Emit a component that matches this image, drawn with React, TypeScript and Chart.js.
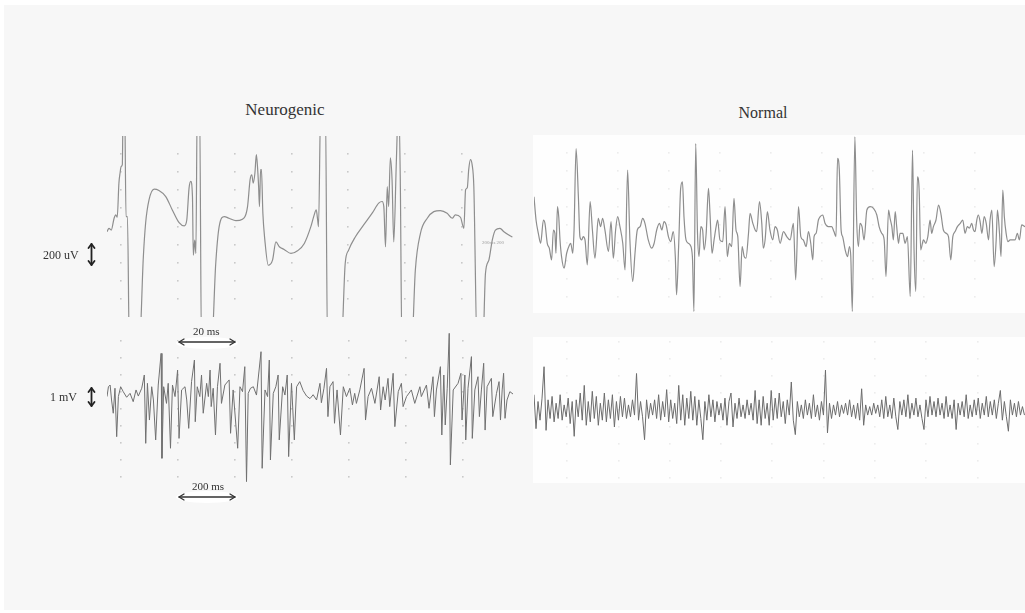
import React, { useEffect, useRef } from "react";
import { Chart, registerables } from "chart.js";

Chart.register(...registerables);

// ---------- Neurogenic, fast sweep (20 ms / div): time in ms, amplitude in µV ----------
const neuroFastTimeMs = [
  0, 0.7, 1.5, 2.5, 3.1, 3.6, 4.2, 4.6, 5.0, 5.4,
  5.7, 6.2, 6.7, 7.2, 7.9, 11.3, 12.8, 13.6, 14.8, 16.6,
  18.3, 20.7, 23.0, 25.4, 27.2, 28.1, 28.9, 29.5, 30.1, 30.4,
  30.9, 31.3, 31.8, 32.6, 33.3, 36.7, 38.3, 39.5, 41.3, 43.0,
  45.4, 47.7, 49.5, 50.4, 51.0, 51.5, 52.1, 52.6, 53.0, 53.4,
  53.7, 54.1, 54.4, 54.9, 55.6, 56.8, 58.3, 59.5, 60.7, 62.4,
  64.8, 67.1, 69.5, 71.8, 72.8, 73.7, 74.2, 74.5, 75.3, 76.9,
  77.7, 82.4, 83.9, 85.1, 87.5, 90.4, 93.4, 95.7, 96.9, 97.5,
  98.1, 98.7, 99.2, 99.8, 100.4, 101.0, 101.9, 102.7, 103.3, 103.9,
  107.2, 108.6, 110.4, 112.8, 115.1, 117.4, 119.8, 121.6, 122.7, 124.5,
  125.7, 126.3, 126.9, 127.4, 128.0, 128.6, 129.2, 130.4, 132.3, 133.3,
  134.5, 135.7, 136.8, 138.4, 139.8, 142.1, 142.8,
];
const neuroFastUv = [
  -58, -20, -39, 91, 128, 102, 480, 591, 664, 683,
  1400, 1400, 109, 109, -1400, -1400, -336, 36, 294, 413,
  398, 331, 183, 42, 6, 72, 424, 498, 331, -317,
  -150, -298, 1400, 1400, -1400, -1400, -409, -2, 109, 91,
  64, 80, 220, 517, 572, 480, 591, 794, 664, 442,
  220, 628, 628, 147, -150, -428, -372, -169, -224, -253,
  -298, -269, -187, -2, 109, 183, 72, -2, 1400, 1400,
  -1400, -1400, -409, -261, -113, 17, 147, 258, 276, 220,
  -224, 442, 220, 758, 517, -169, 702, 1400, 517, -1400,
  -1400, -483, -76, 91, 164, 176, 147, 91, 128, 102,
  -20, 406, 428, 628, 739, 683, 442, -1400, -1400, -520,
  -372, -150, -39, -20, -58, -106, -117,
];
const neuroFastGridMs = [5, 25, 45, 65, 85, 105, 125];
const neuroFastGridUv = [-800, -600, -400, -200, 0, 200, 400, 600, 800];

// ---------- Normal, fast sweep: time in ms, amplitude in µV ----------
const normalFastTimeMs = [
  0, 0.8, 1.7, 2.6, 3.7, 4.3, 5.2, 6.0, 6.9, 7.6,
  8.2, 8.6, 9.2, 9.7, 10.2, 10.8, 11.8, 12.8, 13.9, 14.4,
  15.2, 15.7, 16.5, 17.4, 18.0, 18.7, 19.3, 20.0, 20.9, 22.0,
  22.9, 23.9, 25.2, 26.1, 26.9, 27.8, 29.2, 30.2, 31.1, 32.0,
  32.8, 33.7, 34.8, 35.7, 36.7, 37.6, 38.7, 39.6, 40.5, 41.6,
  42.6, 43.5, 44.8, 46.1, 47.1, 48.1, 49.2, 50.1, 51.0, 51.8,
  52.7, 53.6, 54.6, 55.4, 55.9, 56.7, 57.5, 58.2, 58.8, 59.6,
  60.5, 61.2, 62.1, 62.7, 63.4, 64.1, 64.7, 65.4, 66.1, 66.7,
  67.5, 68.4, 69.0, 69.8, 70.6, 71.4, 72.0, 72.9, 74.0, 74.9,
  75.8, 76.6, 77.5, 78.4, 79.2, 79.9, 80.8, 81.6, 82.4, 83.1,
  84.1, 84.7, 85.8, 86.7, 87.3, 88.4, 89.3, 89.9, 90.6, 91.5,
  92.5, 93.6, 94.5, 95.4, 96.5,
  97.8, 99.1, 100.4, 101.7, 102.6, 103.7, 104.6, 105.6, 106.7, 107.6,
  108.5, 109.3, 109.8, 110.6, 111.5, 112.2, 113.2, 114.1, 115.4, 116.7,
  117.6, 118.4, 119.0, 119.7, 120.4, 121.0, 122.0, 122.9, 123.7, 124.2,
  124.8, 125.8, 126.5, 127.2, 127.8, 128.6, 129.4, 130.5, 131.8, 133.1,
  134.4, 135.3, 136.3, 137.3, 138.0, 139.0, 139.6, 140.3, 140.9, 141.6,
  142.2, 142.9, 143.5, 144.6, 145.5, 146.4, 147.5, 148.4, 149.0, 149.7,
  150.3, 151.0, 151.6, 152.7, 153.6, 154.4, 155.3, 155.9, 156.6, 157.6,
  158.6, 159.5, 160.5, 161.6, 162.5, 163.4, 164.2, 165.1, 166.0, 167.1,
  168.1, 169.0, 169.9, 170.7, 171.6, 172.3, 172.9, 173.6, 174.2, 174.9,
  175.6, 176.5, 177.3, 178.2, 178.8, 179.5, 180.4, 181.2, 181.7, 182.5,
  183.1, 183.8, 184.4, 185.1, 185.8, 186.7, 187.7, 188.6, 189.5, 190.3,
  191.2, 192.5,
];
const normalFastUv = [
  514, 255, 107, -4, 255, 218, -4, -59, -189, 144,
  107, -115, 403, 292, 33, -152, -281, -115, -22, -4,
  -115, 144, 1051, 514, 70, 33, 70, 33, -244, 459,
  144, -170, 274, 181, 274, 144, -96, 237, -170, 144,
  292, 181, -4, -300, 810, 33, -429, -115, 144, 181,
  274, 218, 33, -59, -4, 144, 218, 144, 237, 200,
  70, 15, 126, -152, -577, -41, 607, 681, 292, 33,
  -4, -22, -152, -762, 1106, 107, -152, 181, 144, -78,
  107, 607, 329, -115, 33, 181, 255, 33, 15, 403,
  -152, -4, -41, 496, 144, 70, -485, -41, -152, -170,
  107, 329, 218, 144, 126, 459, 218, -59, 33, 348,
  144, 33, 181, 144, -4,
  126, 70, 33, 218, -411, 403, 70, 33, -41, 126,
  -4, -189, 70, 107, 255, 292, 311, 218, 181, 181,
  126, 70, 940, 810, 144, 70, -78, -152, -41, -152,
  -762, 1180, 255, -41, 218, 181, 33, 366, 403, 385,
  311, 181, 107, 33, -374, 366, 274, 181, 33, 348,
  181, -4, 107, 107, -4, 70, -596, 1032, -78, -540,
  736, 588, -78, 33, -4, 70, 255, 107, 181, 255,
  422, 329, 144, 107, 70, -189, 70, 126, 181, 218,
  255, 107, 181, 163, 218, 144, 126, 255, 311, 237,
  107, 292, 218, 33, 255, 366, -263, 33, 366, 107,
  -152, 588, 292, 107, 15, 33, 33, 33, 107, 33,
  200, 181,
];
const normalFastGridMs = [13, 33, 53, 73, 93, 113, 133, 153, 173];
const normalFastGridUv = [-600, -400, -200, 0, 200, 400, 600, 800, 1000];

// ---------- Neurogenic, slow sweep (200 ms / div): time in ms, amplitude in mV ----------
const neuroSlowTimeMs = [
  0, 5, 11, 16, 22, 28, 34, 40, 48, 57,
  69, 81, 92, 102, 110, 122, 131, 136, 142, 149,
  157, 163, 171, 180, 190, 193, 199, 209, 215, 223,
  230, 239, 248, 253, 262, 274, 280, 287, 297, 307,
  310, 317, 326, 332, 338, 350, 356, 362, 366, 373,
  381, 388, 397, 402, 414, 429, 434, 443, 459, 467,
  476, 484, 490, 496, 504, 514, 525, 541, 545, 555,
  564, 570, 574, 584, 593, 601, 605, 617, 625, 633,
  638, 648, 658, 666, 677, 689, 701, 713, 724, 736,
  748, 753, 762, 771, 776, 783, 794, 799, 808, 820,
  830, 841, 853, 862, 870, 876, 888, 903, 908, 917,
  929, 941, 956, 961, 970, 977, 987, 993, 1005, 1011,
  1023, 1034, 1040, 1052, 1069, 1081, 1099, 1104, 1122, 1131,
  1145, 1150, 1157, 1171, 1176, 1183, 1188, 1195, 1202, 1206,
  1216, 1233, 1243, 1247, 1257, 1260, 1268, 1280, 1283, 1292,
  1303, 1308, 1315, 1323, 1328, 1335, 1350, 1355, 1368, 1377,
  1382, 1388, 1393, 1398, 1405, 1415, 1426,
];
const neuroSlowMv = [
  -0.27, 0.31, 0.41, -0.47, -1.25, 0.22, -2.63, -0.27, 0.31, 0.02,
  -0.31, -0.08, -0.57, 0.12, -0.24, 0.22, 1.0, -3.02, 0.51, -1.65,
  0.31, -0.47, -2.82, 0.41, 2.27, -3.9, 0.31, -0.67, 0.51, -3.31,
  0.41, -0.27, 1.29, -2.73, 0.12, 0.31, -0.47, -2.14, 0.61, 1.88,
  -1.75, 0.31, -0.27, 1.0, -1.25, 0.51, -0.27, 1.29, -0.86, 0.22,
  -2.53, 0.31, 1.69, -0.67, 0.41, 0.71, -2.43, 0.12, -3.31, 0.31,
  0.02, 1.49, -5.27, -0.08, 0.22, 0.31, -0.18, 2.37, -4.49, 0.12,
  -0.27, 1.88, -4.0, -0.08, 0.31, 1.0, -2.82, 0.31, -0.18, 1.0,
  -3.8, 0.51, -2.82, 0.31, 0.61, 0.08, -0.24, -0.39, -0.16, -0.47,
  0.51, -0.63, 0.22, 1.39, -1.45, 0.31, 0.61, -1.84, 0.12, -2.53,
  0.31, -0.27, 0.22, -0.76, -0.08, -0.67, 0.12, 1.39, -1.65, -0.27,
  0.22, -0.67, 0.9, -1.06, 0.31, -0.47, 0.8, -0.86, 1.1, -2.04,
  0.02, 0.51, -0.86, -0.27, 0.12, -0.67, 0.31, -0.27, 0.41, -0.96,
  0.9, -1.45, 0.12, 1.49, -2.53, 1.0, -1.94, 0.22, 3.45, -4.29,
  0.12, 0.51, 1.1, -1.65, 1.0, -2.82, 0.22, 2.08, -2.73, 0.12,
  0.9, -1.45, 0.12, 1.69, -2.24, 0.31, 0.8, -1.45, -0.08, 0.61,
  -1.65, 0.12, 1.1, -1.55, -0.47, 0.02, -0.12,
];
const neuroSlowGridMs = [50, 250, 450, 650, 850, 1050, 1250];
const neuroSlowGridMv = [-5, -4, -3, -2, -1, 0, 1, 2, 3];

// ---------- Normal, slow sweep: one sample every 7.84 ms, amplitude in mV ----------
const NORMAL_SLOW_STEP_MS = 7.84;
const normalSlowMv = [
  0.9, -1.1, 0.5, -0.6, 0.7, 2.55, -1.2, 0.6, -0.5, 0.8,
  -0.7, 0.4, -0.5, 0.9, -0.6, 0.3, -0.4, 0.7, -0.8, 0.5,
  -1.55, 0.6, -0.4, 1.0, -0.6, 1.45, -0.9, 0.5, -0.7, 1.1,
  -0.5, 0.8, -0.9, 0.4, -0.6, 1.0, -0.7, 0.6, -0.5, 0.9,
  -1.0, 0.5, -0.6, 0.8, -0.4, 0.7, -0.5, 0.3, -0.4, 0.6,
  -0.3, 2.15, -0.6, 0.5, -0.4, -1.75, 0.6, -0.5, 0.4, -0.3,
  0.6, -0.5, 0.9, -0.6, 0.5, -0.4, 1.2, -0.7, 0.6, -0.5,
  0.4, -0.8, 1.45, -0.6, 0.9, -0.9, 0.7, -0.5, 1.1, -0.6,
  0.8, -0.9, 0.6, -0.5, -1.75, 0.5, -0.6, 0.9, -0.4, 0.6,
  -0.7, 0.5, -0.3, 0.4, -0.6, 0.7, -0.9, 0.5, 1.0, -1.0,
  0.4, -0.5, 0.7, -0.4, 0.3, -0.5, 0.6, -0.3, 0.4, -0.6,
  1.15, -0.8, 0.6, -0.9, 0.8, -0.5, 0.4, -0.9, 1.15, -0.6,
  0.7, -0.5, 1.0, -0.4, 0.5, -0.8, 0.6, -0.3, 1.65, -0.6,
  -1.45, 0.5, -0.4, 0.3, -0.5, 0.6, -0.3, 0.4, -0.5, 0.9,
  -0.4, 0.3, -0.6, 0.5, -0.3, 2.35, -1.35, 0.4, -0.5, 0.3,
  -0.3, 0.5, -0.4, 0.3, -0.2, 0.4, -0.3, 0.6, -0.4, 0.3,
  -0.5, 0.4, -0.6, 1.25, -0.9, 0.3, -0.3, 0.2, -0.3, 0.4,
  -0.2, 0.3, -0.4, 0.6, -0.5, 0.8, -0.4, 0.3, -0.5, 0.7,
  -0.4, -1.15, 0.5, -0.3, 0.6, -0.4, 0.9, -0.5, 0.4, -0.3,
  0.7, -0.4, 0.3, -0.5, -1.15, 0.6, -0.4, 0.8, -0.3, 0.5,
  -0.4, 0.7, -0.3, 0.4, -0.5, 0.8, -0.4, 0.3, -0.5, 0.6,
  -1.15, 0.4, -0.3, 0.5, -0.4, 0.9, -0.5, 0.3, -0.4, 0.6,
  -0.3, 0.7, -0.5, 0.4, -0.3, 0.8, -0.4, 0.5, -0.3, 0.6,
  -0.5, 0.4, 1.15, -0.6, 0.5, -0.4, -1.25, 0.6, -0.3, 0.4,
  -0.4, 0.5, -0.3, 0.2, -0.3,
];
const normalSlowTimeMs = normalSlowMv.map((_, i) => i * NORMAL_SLOW_STEP_MS);
const normalSlowGridMs = [130, 330, 530, 730, 930, 1130, 1330, 1530, 1730];
const normalSlowGridMv = [-4, -3, -2, -1, 0, 1, 2, 3, 4];

// ---------- text ----------
const panelTitles = ["Neurogenic", "Normal"];
const amplitudeScaleLabels = ["200 uV", "1 mV"];
const timeScaleLabels = ["20 ms", "200 ms"];

const dotGrid = {
  id: "dotGrid",
  beforeDatasetsDraw(chart: any, _args: any, opts: any) {
    const { ctx, scales } = chart;
    const xs = scales.x;
    const ys = scales.y;
    ctx.save();
    ctx.fillStyle = opts.color;
    for (const xv of opts.xs) {
      for (const yv of opts.ys) {
        const px = xs.getPixelForValue(xv);
        const py = ys.getPixelForValue(yv);
        ctx.fillRect(Math.round(px) - 1, Math.round(py) - 1, 1.6, 1.6);
      }
    }
    ctx.restore();
  },
};

type TraceProps = {
  left: number;
  top: number;
  width: number;
  height: number;
  times: number[];
  values: number[];
  xMin: number;
  xMax: number;
  yMin: number;
  yMax: number;
  color: string;
  lineWidth: number;
  smooth: boolean;
  gridX: number[];
  gridY: number[];
  gridColor: string;
};

function Trace(p: TraceProps) {
  const ref = useRef<HTMLCanvasElement | null>(null);
  useEffect(() => {
    if (!ref.current) return;
    const chart = new Chart(ref.current, {
      type: "line",
      data: {
        datasets: [
          {
            data: p.times.map((t, i) => ({ x: t, y: p.values[i] })),
            borderColor: p.color,
            borderWidth: p.lineWidth,
            pointRadius: 0,
            tension: 0,
            cubicInterpolationMode: p.smooth ? "monotone" : "default",
            fill: false,
          },
        ],
      },
      options: {
        animation: false,
        responsive: false,
        events: [],
        layout: { padding: 0 },
        scales: {
          x: { type: "linear", min: p.xMin, max: p.xMax, display: false },
          y: { type: "linear", min: p.yMin, max: p.yMax, display: false },
        },
        plugins: {
          legend: { display: false },
          tooltip: { enabled: false },
          title: { display: false },
          dotGrid: { xs: p.gridX, ys: p.gridY, color: p.gridColor },
        } as any,
      },
      plugins: [dotGrid as any],
    } as any);
    return () => chart.destroy();
  }, []);
  return (
    <canvas
      ref={ref}
      width={p.width}
      height={p.height}
      style={{ position: "absolute", left: p.left, top: p.top, width: p.width, height: p.height }}
    />
  );
}

const serif = "'Liberation Serif', 'DejaVu Serif', serif";

function Label({ text, left, top, size, width, align }: { text: string; left: number; top: number; size: number; width?: number; align?: any }) {
  return (
    <div
      style={{
        position: "absolute",
        left,
        top,
        width: width ?? "auto",
        textAlign: align ?? "left",
        fontFamily: serif,
        fontSize: size,
        lineHeight: `${size + 2}px`,
        color: "#333",
        whiteSpace: "nowrap",
      }}
    >
      {text}
    </div>
  );
}

export default function App() {
  return (
    <div style={{ position: "fixed", left: 0, top: 0, width: 1025, height: 613, background: "#ffffff", overflow: "hidden" }}>
      <div style={{ position: "absolute", left: 4, top: 5, width: 1021, height: 605, background: "#f7f7f7" }} />
      <div style={{ position: "absolute", left: 533, top: 135, width: 492, height: 178, background: "#fefefe" }} />
      <div style={{ position: "absolute", left: 533, top: 337, width: 492, height: 146, background: "#fefefe" }} />

      <Label text={panelTitles[0]} left={205} top={100} size={17} width={160} align="center" />
      <Label text={panelTitles[1]} left={703} top={104} size={16} width={120} align="center" />

      <Trace left={107} top={136} width={406} height={181} times={neuroFastTimeMs} values={neuroFastUv}
        xMin={0} xMax={143} yMin={-1000} yMax={1000} color="#8e8e8e" lineWidth={1.2} smooth={true}
        gridX={neuroFastGridMs} gridY={neuroFastGridUv} gridColor="#c9c9c9" />
      <Trace left={534} top={136} width={491} height={177} times={normalFastTimeMs} values={normalFastUv}
        xMin={0} xMax={192.5} yMin={-780} yMax={1190} color="#8e8e8e" lineWidth={1.2} smooth={true}
        gridX={normalFastGridMs} gridY={normalFastGridUv} gridColor="#ececec" />
      <Trace left={107} top={333} width={406} height={153} times={neuroSlowTimeMs} values={neuroSlowMv}
        xMin={0} xMax={1426} yMin={-5.53} yMax={3.47} color="#707070" lineWidth={1} smooth={false}
        gridX={neuroSlowGridMs} gridY={neuroSlowGridMv} gridColor="#c9c9c9" />
      <Trace left={534} top={337} width={491} height={146} times={normalSlowTimeMs} values={normalSlowMv}
        xMin={0} xMax={1915} yMin={-4.3} yMax={4.3} color="#6c6c6c" lineWidth={1} smooth={false}
        gridX={normalSlowGridMs} gridY={normalSlowGridMv} gridColor="#ececec" />

      <svg width={1025} height={613} style={{ position: "absolute", left: 0, top: 0, pointerEvents: "none" }}>
        <ellipse cx={207} cy={343} rx={31} ry={6} fill="#ffffff" />
        <ellipse cx={207} cy={497} rx={31} ry={6} fill="#ffffff" />
        <g stroke="#333" strokeWidth={1.3} fill="none" strokeLinecap="round" strokeLinejoin="round">
          <line x1={179} y1={342} x2={235} y2={342} />
          <polyline points="184,339 179,342 184,345" />
          <polyline points="230,339 235,342 230,345" />
          <line x1={179} y1={497} x2={235} y2={497} />
          <polyline points="184,494 179,497 184,500" />
          <polyline points="230,494 235,497 230,500" />
        </g>
        <g stroke="#222" strokeWidth={1.8} fill="none" strokeLinecap="round" strokeLinejoin="round">
          <line x1={91.5} y1={244} x2={91.5} y2={265} />
          <polyline points="88.5,248 91.5,244 94.5,248" />
          <polyline points="88.5,261 91.5,265 94.5,261" />
          <line x1={91.5} y1={388} x2={91.5} y2={406} />
          <polyline points="88.5,392 91.5,388 94.5,392" />
          <polyline points="88.5,402 91.5,406 94.5,402" />
        </g>
      </svg>

      <Label text={amplitudeScaleLabels[0]} left={43} top={248} size={12} />
      <Label text={amplitudeScaleLabels[1]} left={50} top={390} size={12} />
      <Label text={timeScaleLabels[0]} left={193} top={325} size={11} />
      <Label text={timeScaleLabels[1]} left={192} top={480} size={11} />
      <div style={{ position: "absolute", left: 482, top: 240, fontFamily: serif, fontSize: 5, lineHeight: "6px", color: "#9a9a9a", whiteSpace: "nowrap" }}>
        200ms 200
      </div>
    </div>
  );
}
